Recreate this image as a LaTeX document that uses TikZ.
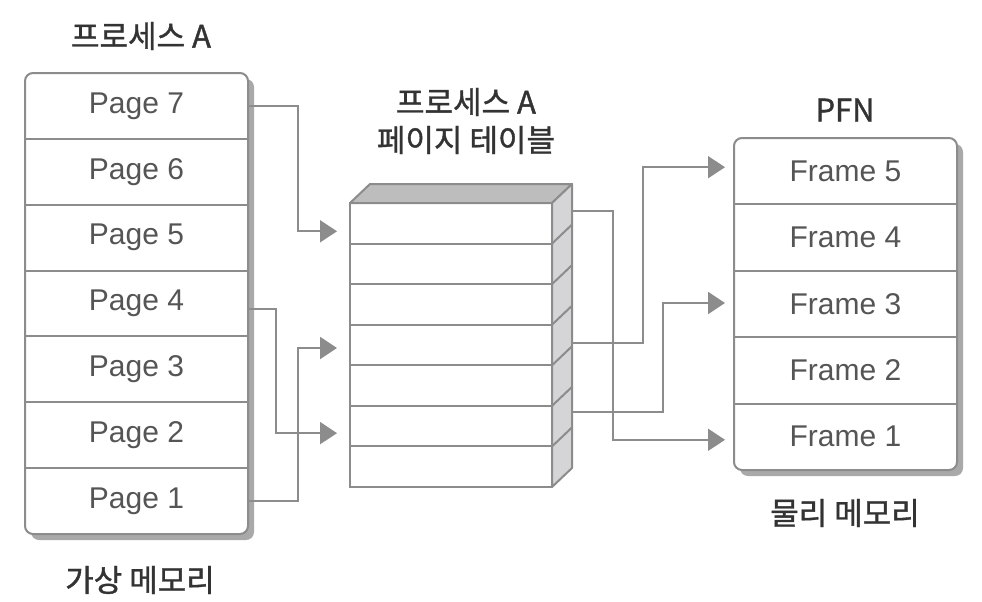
\documentclass[tikz,border=0pt]{standalone}
\usepackage{fontspec}
\setmainfont{Liberation Sans}
\newfontfamily\kr[FakeBold=1.2]{Noto Sans CJK KR}
\usetikzlibrary{arrows.meta,calc}
\definecolor{linegray}{HTML}{8C8C8C}
\definecolor{shadowgray}{HTML}{A9A9A9}
\definecolor{topgray}{HTML}{BDBDBD}
\definecolor{sidegray}{HTML}{D5D5D8}
\definecolor{celltext}{HTML}{555555}
\definecolor{labeltext}{HTML}{333333}
\tikzset{
  boxline/.style={draw=linegray, line width=2pt},
  cell/.style={draw=none, inner sep=0pt, outer sep=0pt, font=\fontsize{30}{32}\selectfont, text=celltext},
  tcell/.style={boxline, fill=white, inner sep=0pt, outer sep=0pt, minimum width=202pt, minimum height=40.57pt},
  conn/.style={draw=linegray, line width=2pt, -{Triangle[length=17pt,width=22pt]}},
  lbl/.style={font=\kr\fontsize{31}{33}\selectfont, text=labeltext, inner sep=0pt}
}
\begin{document}
\begin{tikzpicture}[x=1pt,y=-1pt]
\useasboundingbox (0,0) rectangle (982,602);
\fill[white] (0,0) rectangle (982,602);

% virtual memory box
\fill[shadowgray, rounded corners=8pt] (31,79) rectangle (254,540);
\draw[boxline, fill=white, rounded corners=8pt] (25,73) rectangle (248,534);
\foreach \n [count=\k from 0] in {7,6,5,4,3,2,1}
  \node[cell, minimum width=223pt, minimum height=65.86pt] (p\n) at (136.5,{105.93+65.86*\k}) {Page \n};
\foreach \n in {7,6,5,4,3,2}
  \draw[boxline] (p\n.south west) -- (p\n.south east);

% page table
\foreach \n [count=\k from 0] in {1,...,7}
  \node[tcell] (t\n) at (451,{223.29+40.57*\k}) {};
\draw[boxline, fill=topgray, line join=round] (t1.north west) -- ++(20,-19) -- ++(202,0) -- (t1.north east) -- cycle;
\draw[boxline, fill=sidegray, line join=round] (t1.north east) -- ++(20,-19) -- ($(t7.south east)+(20,-19)$) -- (t7.south east) -- cycle;
\foreach \n in {1,...,6}
  \draw[boxline] (t\n.south east) -- ++(20,-19);

% physical memory box
\fill[shadowgray, rounded corners=8pt] (740,144) rectangle (963,476);
\draw[boxline, fill=white, rounded corners=8pt] (734,138) rectangle (957,470);
\foreach \n [count=\k from 0] in {5,4,3,2,1}
  \node[cell, minimum width=223pt, minimum height=66.4pt] (f\n) at (845.5,{171.2+66.4*\k}) {Frame \n};
\foreach \n in {5,4,3,2}
  \draw[boxline] (f\n.south west) -- (f\n.south east);

% connectors: pages -> page table
\draw[conn, shorten >=13pt] (p7.east) -- ++(50,0) |- ($(t1.west)+(0,8)$);
\draw[conn, shorten >=13pt] ($(p4.east)+(0,5)$) -- ++(28,0) |- ($(t6.west)+(0,7)$);
\draw[conn, shorten >=13pt] (p1.east) -- ++(50,0) |- ($(t4.west)+(0,3)$);

% connectors: page table -> frames
\draw[conn, shorten >=9pt] ($(t1.east)+(20,-12)$) -- ++(41,0) |- ($(f1.west)+(0,3)$);
\draw[conn, shorten >=9pt] ($(t4.east)+(20,-2)$) -- ++(71,0) |- ($(f5.west)+(0,-4)$);
\draw[conn, shorten >=9pt] ($(t6.east)+(20,-14)$) -- ++(91,0) |- ($(f3.west)+(0,-1)$);

% labels
\node[lbl] (lA) at (141,36) {프로세스 A};
\node[lbl] (lB) at (466,102) {프로세스 A};
\node[lbl] (lC) at (466,140) {페이지 테이블};
\node[lbl] (lD) at (845,110) {PFN};
\node[lbl] (lE) at (845,513) {물리 메모리};
\node[lbl] (lF) at (140,580) {가상 메모리};
\end{tikzpicture}
\end{document}
